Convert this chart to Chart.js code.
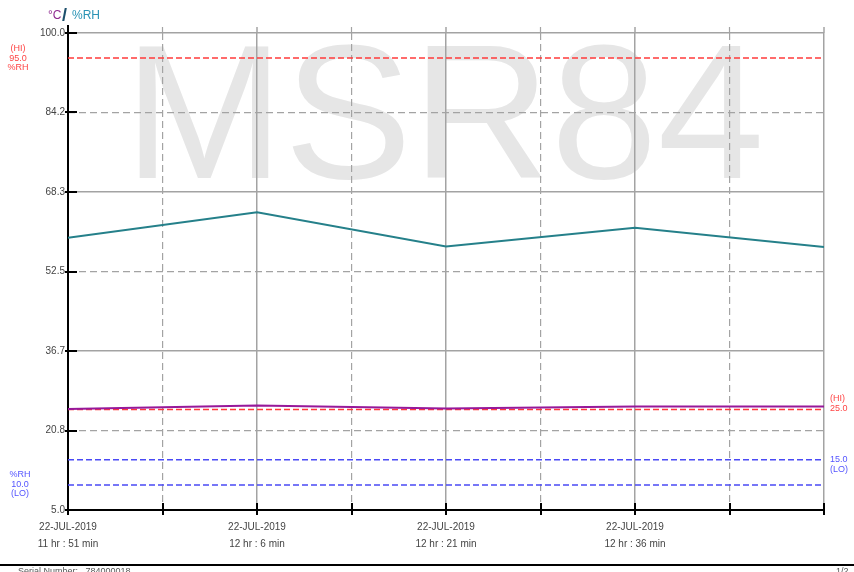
<!DOCTYPE html>
<html>
<head>
<meta charset="utf-8">
<script src="https://cdn.jsdelivr.net/npm/chart.js@4/dist/chart.umd.min.js"></script>
<style>
  html, body { margin: 0; padding: 0; background: #fff; }
  #caixa { position: relative; width: 854px; height: 572px; }
</style>
</head>
<body>
<div id="caixa"><canvas id="grafico"></canvas></div>
<script>
// leituras do registrador (minutos desde 11:51)
const minutos = [0, 15, 30, 45, 60]
const umidade = [59.2, 64.3, 57.5, 61.2, 57.4]
const temperatura = [25.1, 25.8, 25.2, 25.6, 25.6]

// limites de alarme
const limiteUmidadeHi = 95.0
const limiteTempHi = 25.0
const limiteTempLo = 15.0
const limiteUmidadeLo = 10.0

// eixos
const ticksY = [5.0, 20.8, 36.7, 52.5, 68.3, 84.2, 100.0]
const ticksX = [0, 7.5, 15, 22.5, 30, 37.5, 45, 52.5, 60]
const datasX = ['22-JUL-2019', '22-JUL-2019', '22-JUL-2019', '22-JUL-2019']
const horasX = ['11 hr : 51 min', '12 hr : 6 min', '12 hr : 21 min', '12 hr : 36 min']

const FONTE = '"Liberation Sans", Arial, sans-serif'
const CINZA = '#a3a3a3'

function serie(valores) {
  return minutos.map((m, i) => ({ x: m, y: valores[i] }))
}

function linhaLimite(valor) {
  return [{ x: minutos[0], y: valor }, { x: minutos[minutos.length - 1], y: valor }]
}

function fixarTicks(lista) {
  return (escala) => {
    escala.ticks = lista.map((v) => ({ value: v }))
  }
}

// marca d'agua atras da grade
const marcaDagua = {
  id: 'marcaDagua',
  beforeDraw(chart) {
    const { ctx, chartArea } = chart
    ctx.save()
    ctx.font = `192px ${FONTE}`
    ctx.fillStyle = '#e6e6e6'
    ctx.textBaseline = 'alphabetic'
    ctx.fillText('MSR84', chartArea.left + 56, chartArea.top + 145)
    ctx.restore()
  }
}

// textos, tracos dos eixos e rodape
const extras = {
  id: 'extras',
  afterDraw(chart) {
    const { ctx, chartArea } = chart
    const y = chart.scales.y
    const x = chart.scales.x
    ctx.save()

    // grade vertical passa um pouco do topo
    ctx.strokeStyle = CINZA
    ticksX.forEach((v, i) => {
      if (i === 0) return
      const px = x.getPixelForValue(v)
      ctx.lineWidth = i % 2 === 0 ? 1.5 : 1.2
      ctx.beginPath()
      ctx.moveTo(px, chartArea.top - 6)
      ctx.lineTo(px, chartArea.top)
      ctx.stroke()
    })

    // tracos cruzando os eixos
    ctx.strokeStyle = '#000'
    ctx.lineWidth = 2
    ctx.beginPath()
    ticksY.forEach((v) => {
      const py = Math.round(y.getPixelForValue(v))
      ctx.moveTo(chartArea.left - 3, py)
      ctx.lineTo(chartArea.left + 9, py)
    })
    ticksX.forEach((v) => {
      const px = Math.round(x.getPixelForValue(v))
      ctx.moveTo(px, chartArea.bottom - 7)
      ctx.lineTo(px, chartArea.bottom + 5)
    })
    ctx.moveTo(chartArea.left, chartArea.top - 8)
    ctx.lineTo(chartArea.left, chartArea.top)
    ctx.stroke()

    // titulo
    ctx.textBaseline = 'alphabetic'
    ctx.textAlign = 'left'
    ctx.font = `12px ${FONTE}`
    ctx.fillStyle = '#8e2a90'
    ctx.fillText('°C', 48, 19)
    ctx.font = `bold 18px ${FONTE}`
    ctx.fillStyle = '#1d4f6c'
    ctx.fillText('/', 62, 21)
    ctx.font = `12px ${FONTE}`
    ctx.fillStyle = '#2a93b5'
    ctx.fillText('%RH', 72, 19)

    // rotulos dos limites
    ctx.font = `9px ${FONTE}`
    ctx.textBaseline = 'middle'
    ctx.textAlign = 'center'
    const pHiU = y.getPixelForValue(limiteUmidadeHi)
    ctx.fillStyle = '#ff4545'
    ctx.fillText('(HI)', 18, pHiU - 10)
    ctx.fillText('95.0', 18, pHiU)
    ctx.fillText('%RH', 18, pHiU + 9)
    const pLoU = y.getPixelForValue(limiteUmidadeLo)
    ctx.fillStyle = '#5555ff'
    ctx.fillText('%RH', 20, pLoU - 10)
    ctx.fillText('10.0', 20, pLoU)
    ctx.fillText('(LO)', 20, pLoU + 9)

    ctx.textAlign = 'left'
    const pHiT = y.getPixelForValue(limiteTempHi)
    ctx.fillStyle = '#ff4545'
    ctx.fillText('(HI)', chartArea.right + 6, pHiT - 11)
    ctx.fillText('25.0', chartArea.right + 6, pHiT - 1)
    const pLoT = y.getPixelForValue(limiteTempLo)
    ctx.fillStyle = '#5555ff'
    ctx.fillText('15.0', chartArea.right + 6, pLoT)
    ctx.fillText('(LO)', chartArea.right + 6, pLoT + 10)

    // rodape
    ctx.strokeStyle = '#000'
    ctx.lineWidth = 2
    ctx.beginPath()
    ctx.moveTo(0, 565)
    ctx.lineTo(854, 565)
    ctx.stroke()
    ctx.fillStyle = '#555'
    ctx.font = `9px ${FONTE}`
    ctx.fillText('Serial Number:   784000018', 18, 572)
    ctx.fillText('1/2', 836, 572)

    ctx.restore()
  }
}

new Chart(document.getElementById('grafico'), {
  type: 'line',
  data: {
    datasets: [
      {
        label: '%RH',
        data: serie(umidade),
        borderColor: '#25808a',
        borderWidth: 2,
        pointRadius: 0,
        order: 0
      },
      {
        label: '°C',
        data: serie(temperatura),
        borderColor: '#97189a',
        borderWidth: 2,
        pointRadius: 0,
        order: 0
      },
      {
        label: 'HI %RH',
        data: linhaLimite(limiteUmidadeHi),
        borderColor: '#ff3b3b',
        borderWidth: 1.5,
        borderDash: [6, 3],
        pointRadius: 0,
        order: 1
      },
      {
        label: 'HI °C',
        data: linhaLimite(limiteTempHi),
        borderColor: '#ff3b3b',
        borderWidth: 1.5,
        borderDash: [6, 3],
        pointRadius: 0,
        order: 1
      },
      {
        label: 'LO °C',
        data: linhaLimite(limiteTempLo),
        borderColor: '#4a4af5',
        borderWidth: 1.5,
        borderDash: [6, 3],
        pointRadius: 0,
        order: 1
      },
      {
        label: 'LO %RH',
        data: linhaLimite(limiteUmidadeLo),
        borderColor: '#4a4af5',
        borderWidth: 1.5,
        borderDash: [6, 3],
        pointRadius: 0,
        order: 1
      }
    ]
  },
  options: {
    responsive: true,
    maintainAspectRatio: false,
    animation: false,
    layout: {
      padding: { left: 0, top: 33, right: 30, bottom: 12 }
    },
    plugins: {
      legend: { display: false },
      tooltip: { enabled: false }
    },
    scales: {
      x: {
        type: 'linear',
        min: 0,
        max: 60,
        afterBuildTicks: fixarTicks(ticksX),
        afterFit: (escala) => { escala.height = 50 },
        ticks: {
          autoSkip: false,
          maxRotation: 0,
          padding: 9,
          color: '#444',
          font: { family: FONTE, size: 10, lineHeight: 1.7 },
          callback: (valor, indice) => {
            const k = indice / 2
            if (indice % 2 !== 0 || k >= horasX.length) return ''
            return [datasX[k], horasX[k]]
          }
        },
        grid: {
          color: (ctx) => (ctx.index % 2 === 0 ? CINZA : 'transparent'),
          lineWidth: 1.5,
          drawTicks: false
        },
        border: { color: '#000', width: 2 }
      },
      xTracejado: {
        type: 'linear',
        position: 'bottom',
        min: 0,
        max: 60,
        afterBuildTicks: fixarTicks(ticksX),
        afterFit: (escala) => { escala.height = 0 },
        ticks: { display: false },
        grid: {
          color: (ctx) => (ctx.index % 2 === 1 ? CINZA : 'transparent'),
          lineWidth: 1.2,
          drawTicks: false
        },
        border: { display: false, dash: [7, 4] }
      },
      y: {
        type: 'linear',
        min: 5,
        max: 100,
        afterBuildTicks: fixarTicks(ticksY),
        afterFit: (escala) => { escala.width = 68 },
        ticks: {
          padding: 3,
          color: '#444',
          font: { family: FONTE, size: 10 },
          callback: (valor) => valor.toFixed(1)
        },
        grid: {
          color: (ctx) => (ctx.index % 2 === 0 ? CINZA : 'transparent'),
          lineWidth: 1.5,
          drawTicks: false
        },
        border: { color: '#000', width: 2 }
      },
      yTracejado: {
        type: 'linear',
        position: 'left',
        min: 5,
        max: 100,
        afterBuildTicks: fixarTicks(ticksY),
        afterFit: (escala) => { escala.width = 0 },
        ticks: { display: false },
        grid: {
          color: (ctx) => (ctx.index % 2 === 1 ? CINZA : 'transparent'),
          lineWidth: 1.2,
          drawTicks: false
        },
        border: { display: false, dash: [7, 4] }
      }
    }
  },
  plugins: [marcaDagua, extras]
})
</script>
</body>
</html>
